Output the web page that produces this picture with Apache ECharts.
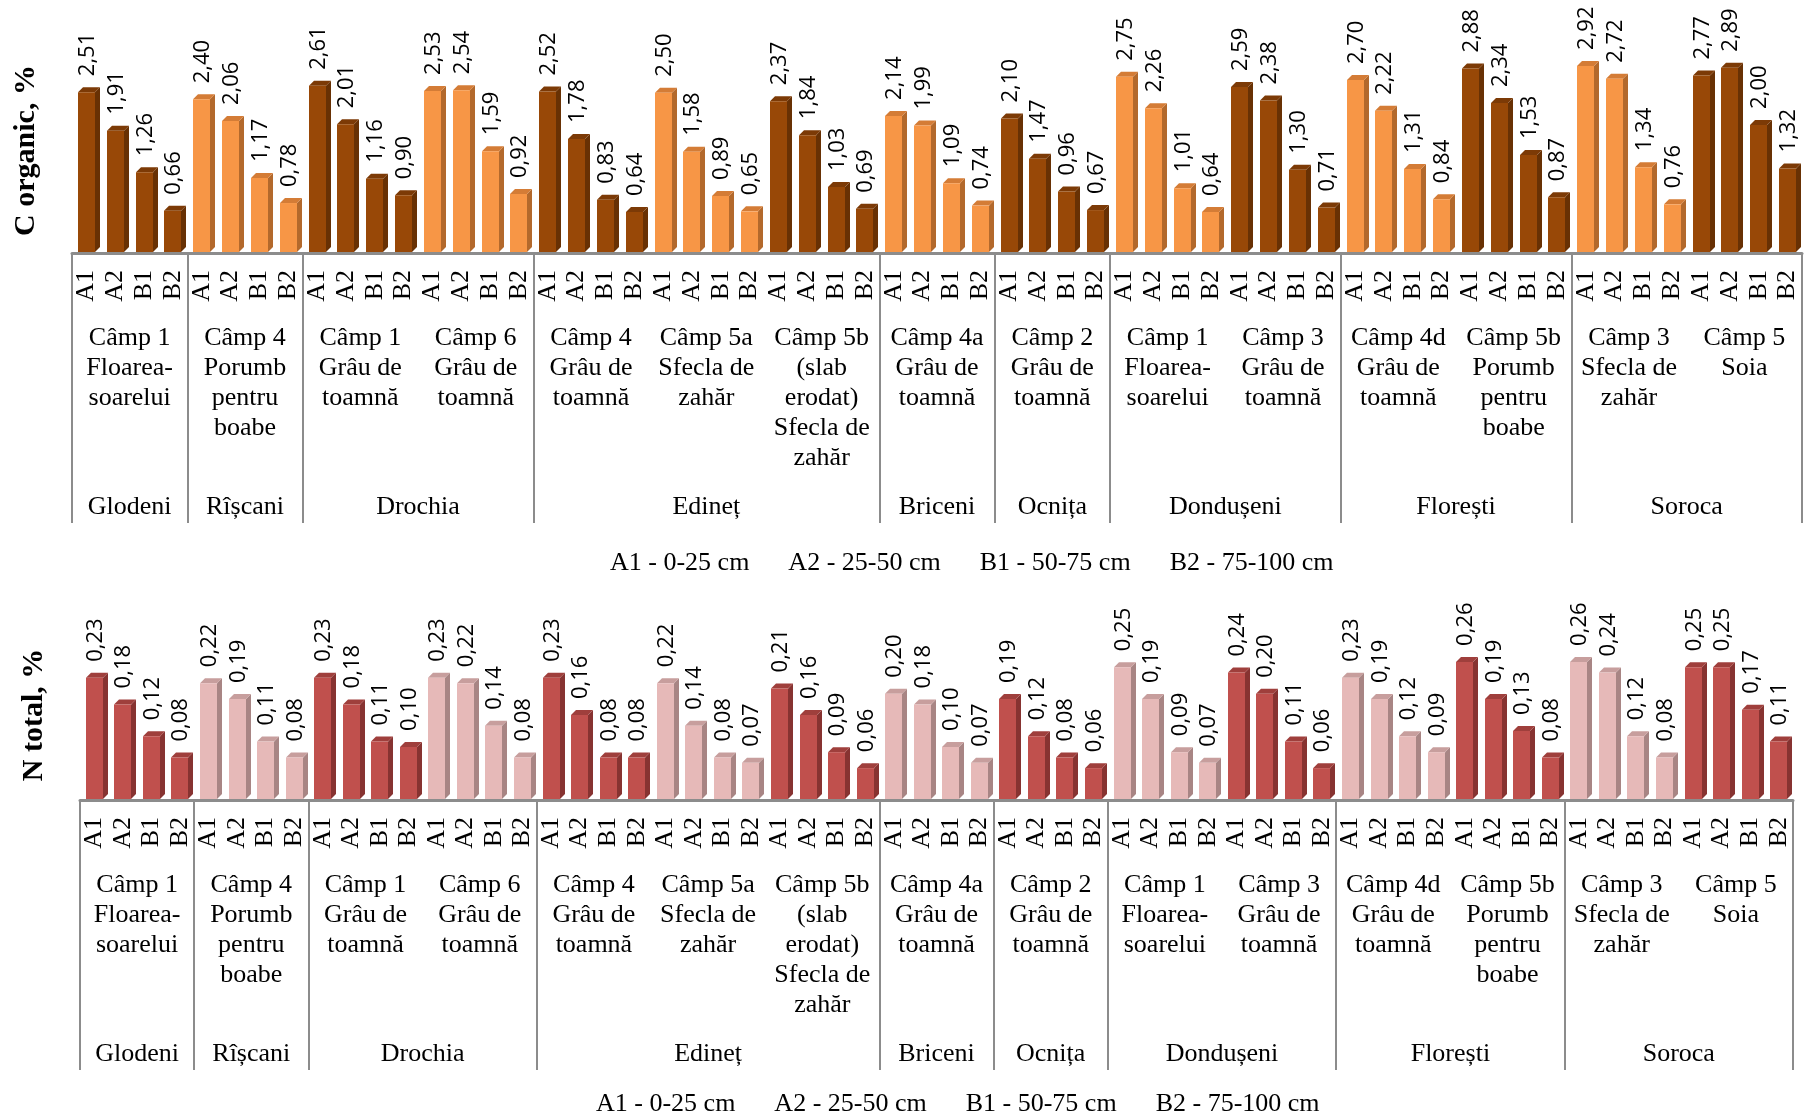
<!DOCTYPE html>
<html>
<head>
<meta charset="utf-8">
<title>C organic / N total</title>
<script src="https://cdn.jsdelivr.net/npm/echarts@6/dist/echarts.min.js"></script>
<style>
  html, body { margin: 0; padding: 0; background: #fff; }
  #main { width: 1805px; height: 1115px; }
</style>
</head>
<body>
<div id="main"></div>
<script>
var horizons = ['A1', 'A2', 'B1', 'B2'];

var fields = [
  'Câmp 1\nFloarea-\nsoarelui',
  'Câmp 4\nPorumb\npentru\nboabe',
  'Câmp 1\nGrâu de\ntoamnă',
  'Câmp 6\nGrâu de\ntoamnă',
  'Câmp 4\nGrâu de\ntoamnă',
  'Câmp 5a\nSfecla de\nzahăr',
  'Câmp 5b\n(slab\nerodat)\nSfecla de\nzahăr',
  'Câmp 4a\nGrâu de\ntoamnă',
  'Câmp 2\nGrâu de\ntoamnă',
  'Câmp 1\nFloarea-\nsoarelui',
  'Câmp 3\nGrâu de\ntoamnă',
  'Câmp 4d\nGrâu de\ntoamnă',
  'Câmp 5b\nPorumb\npentru\nboabe',
  'Câmp 3\nSfecla de\nzahăr',
  'Câmp 5\nSoia'
];

var districts = ['Glodeni', 'Rîșcani', 'Drochia', 'Edineț', 'Briceni', 'Ocnița', 'Dondușeni', 'Florești', 'Soroca'];
// number of fields in each district
var districtFields = [1, 1, 2, 3, 1, 1, 2, 2, 2];

// C organic, % (A1, A2, B1, B2 for each field)
var carbon = [
  2.51, 1.91, 1.26, 0.66,
  2.40, 2.06, 1.17, 0.78,
  2.61, 2.01, 1.16, 0.90,
  2.53, 2.54, 1.59, 0.92,
  2.52, 1.78, 0.83, 0.64,
  2.50, 1.58, 0.89, 0.65,
  2.37, 1.84, 1.03, 0.69,
  2.14, 1.99, 1.09, 0.74,
  2.10, 1.47, 0.96, 0.67,
  2.75, 2.26, 1.01, 0.64,
  2.59, 2.38, 1.30, 0.71,
  2.70, 2.22, 1.31, 0.84,
  2.88, 2.34, 1.53, 0.87,
  2.92, 2.72, 1.34, 0.76,
  2.77, 2.89, 2.00, 1.32
];

// N total, %
var nitrogen = [
  0.23, 0.18, 0.12, 0.08,
  0.22, 0.19, 0.11, 0.08,
  0.23, 0.18, 0.11, 0.10,
  0.23, 0.22, 0.14, 0.08,
  0.23, 0.16, 0.08, 0.08,
  0.22, 0.14, 0.08, 0.07,
  0.21, 0.16, 0.09, 0.06,
  0.20, 0.18, 0.10, 0.07,
  0.19, 0.12, 0.08, 0.06,
  0.25, 0.19, 0.09, 0.07,
  0.24, 0.20, 0.11, 0.06,
  0.23, 0.19, 0.12, 0.09,
  0.26, 0.19, 0.13, 0.08,
  0.26, 0.24, 0.12, 0.08,
  0.25, 0.25, 0.17, 0.11
];

var depthNote = 'A1 - 0-25 cm      A2 - 25-50 cm      B1 - 50-75 cm      B2 - 75-100 cm';

var serif = '"Liberation Serif", "Times New Roman", serif';
var sans = '"Open Sans", "Noto Sans", sans-serif';
var gray = '#8c8c8c';

var categories = [];
fields.forEach(function () {
  horizons.forEach(function (h) { categories.push(h); });
});

// boundaries / centres in bar units (4 bars per field)
var districtTicks = [0];
var districtCentres = [];
var acc = 0;
districtFields.forEach(function (n) {
  districtCentres.push((acc + n / 2) * 4);
  acc += n;
  districtTicks.push(acc * 4);
});
var fieldCentres = fields.map(function (f, i) { return i * 4 + 2; });

// [front, side, top]
var palettes = [
  { dark: ['#984807', '#683104', '#7c3a06'], light: ['#f79646', '#b3692c', '#d47c36'] },
  { dark: ['#c0504d', '#873331', '#9f3f3c'], light: ['#e6b9b8', '#a88584', '#c79e9d'] }
];

// excel-like 3d column
function bars3d(pal) {
  return function (params, api) {
    var i = params.dataIndex;
    var v = api.value(1);
    var base = api.coord([i, 0]);
    var top = api.coord([i, v]);
    var band = api.size([1, 0])[0];
    var w = Math.round(band * 0.58);
    var dx = 5, dy = 5;
    var x0 = Math.round(base[0] - w / 2), x1 = x0 + w;
    var yb = base[1] - 1, yt = top[1];
    var c = Math.floor(i / 4) % 2 === 0 ? pal.dark : pal.light;
    return {
      type: 'group',
      children: [
        { type: 'polygon', shape: { points: [[x1, yt], [x1 + dx, yt - dy], [x1 + dx, yb - dy], [x1, yb]] }, style: { fill: c[1] } },
        { type: 'polygon', shape: { points: [[x0, yt], [x0 + dx, yt - dy], [x1 + dx, yt - dy], [x1, yt]] }, style: { fill: c[2] } },
        { type: 'rect', shape: { x: x0, y: yt, width: w, height: yb - yt }, style: { fill: c[0] } },
        {
          type: 'text', x: (x0 + x1) / 2 + 1, y: yt - 16, rotation: Math.PI / 2,
          style: { text: v.toFixed(2).replace('.', ','), fontSize: 22, fontFamily: sans, fill: '#000', align: 'left', verticalAlign: 'middle' }
        }
      ]
    };
  };
}

function xAxesFor(g) {
  return [
    {
      type: 'category', gridIndex: g, position: 'bottom', data: categories,
      axisLine: { lineStyle: { color: gray, width: 3 } },
      axisTick: { interval: 3, length: 221, lineStyle: { color: gray, width: 2 } },
      axisLabel: { interval: 0, rotate: 90, margin: 17, fontFamily: serif, fontSize: 26, color: '#000' }
    },
    {
      type: 'value', gridIndex: g, position: 'bottom', min: 0, max: 60,
      axisLine: { show: false }, splitLine: { show: false },
      axisTick: { customValues: districtTicks, length: 270, lineStyle: { color: gray, width: 2 } },
      axisLabel: {
        customValues: districtCentres, margin: 241, fontFamily: serif, fontSize: 26, color: '#000',
        formatter: function (v) { return districts[districtCentres.indexOf(v)]; }
      }
    },
    {
      type: 'value', gridIndex: g, position: 'bottom', min: 0, max: 60,
      axisLine: { show: false }, axisTick: { show: false }, splitLine: { show: false },
      axisLabel: {
        customValues: fieldCentres, margin: 70, lineHeight: 30, fontFamily: serif, fontSize: 26, color: '#000',
        formatter: function (v) { return fields[(v - 2) / 4]; }
      }
    }
  ];
}

function yAxisFor(g, max, name) {
  return {
    type: 'value', gridIndex: g, min: 0, max: max,
    axisLine: { show: false }, axisTick: { show: false }, axisLabel: { show: false }, splitLine: { show: false },
    name: name, nameLocation: 'middle', nameGap: 31,
    nameTextStyle: { fontFamily: serif, fontSize: 30, fontWeight: 'bold', color: '#000' }
  };
}

var chart = echarts.init(document.getElementById('main'));
chart.setOption({
  animation: false,
  backgroundColor: '#fff',
  title: [
    { text: depthNote, left: 605, top: 545, textStyle: { fontFamily: serif, fontSize: 26, fontWeight: 'normal', color: '#000' } },
    { text: depthNote, left: 591, top: 1086, textStyle: { fontFamily: serif, fontSize: 26, fontWeight: 'normal', color: '#000' } }
  ],
  grid: [
    { left: 72, right: 3, top: 48, height: 205 },
    { left: 80, right: 12, top: 630, height: 170 }
  ],
  xAxis: xAxesFor(0).concat(xAxesFor(1)),
  yAxis: [yAxisFor(0, 3.2, 'C organic, %'), yAxisFor(1, 0.32, 'N total, %')],
  series: [
    {
      type: 'custom', xAxisIndex: 0, yAxisIndex: 0,
      data: carbon.map(function (v, i) { return [i, v]; }),
      encode: { x: 0, y: 1 },
      renderItem: bars3d(palettes[0])
    },
    {
      type: 'custom', xAxisIndex: 3, yAxisIndex: 1,
      data: nitrogen.map(function (v, i) { return [i, v]; }),
      encode: { x: 0, y: 1 },
      renderItem: bars3d(palettes[1])
    }
  ]
});
</script>
</body>
</html>
